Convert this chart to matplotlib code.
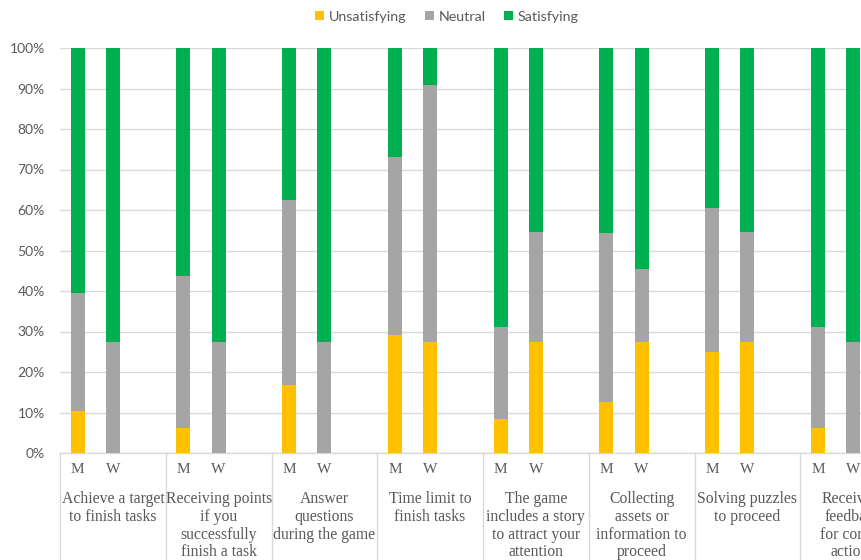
import numpy as np
import matplotlib.pyplot as plt
import matplotlib.transforms as mtransforms

# Datos (porcentajes)
categorias = ["Achieve a target\nto finish tasks",
              "Receiving points\nif you\nsuccessfully\nfinish a task",
              "Answer\nquestions\nduring the game",
              "Time limit to\nfinish tasks",
              "The game\nincludes a story\nto attract your\nattention",
              "Collecting\nassets or\ninformation to\nproceed",
              "Solving puzzles\nto proceed",
              "Receiving\nfeedback\nfor correct\nactions"]
grupos = ["M", "W"]

unsat_m = [10.4, 6.2, 16.7, 29.2, 8.3, 12.5, 25.0, 6.2]
neutral_m = [29.2, 37.5, 45.8, 43.8, 22.9, 41.7, 35.4, 25.0]
sat_m = [60.4, 56.3, 37.5, 27.0, 68.8, 45.8, 39.6, 68.8]

unsat_w = [0.0, 0.0, 0.0, 27.3, 27.3, 27.3, 27.3, 0.0]
neutral_w = [27.3, 27.3, 27.3, 63.6, 27.2, 18.2, 27.2, 27.3]
sat_w = [72.7, 72.7, 72.7, 9.1, 45.5, 54.5, 45.5, 72.7]

series = ["Unsatisfying", "Neutral", "Satisfying"]
colores = ["#FFC000", "#A5A5A5", "#00B050"]
gris_texto = "#595959"
gris_linea = "#D9D9D9"


def main():
    fig = plt.figure(figsize=(8.61, 5.60), dpi=100)
    ax = fig.add_axes([60 / 861, 107 / 560, 846 / 861, 405 / 560])

    n = len(categorias)
    x_m = np.arange(n) * 3
    x_w = x_m + 1
    ancho = 0.4

    datos_m = [unsat_m, neutral_m, sat_m]
    datos_w = [unsat_w, neutral_w, sat_w]
    base_m = np.zeros(n)
    base_w = np.zeros(n)
    for i in range(3):
        ax.bar(x_m, datos_m[i], ancho, bottom=base_m, color=colores[i],
               label=series[i], zorder=3)
        ax.bar(x_w, datos_w[i], ancho, bottom=base_w, color=colores[i], zorder=3)
        base_m += np.array(datos_m[i])
        base_w += np.array(datos_w[i])

    ax.set_xlim(-0.5, 3 * n - 0.5)
    ax.set_ylim(0, 100)
    ax.set_yticks(np.arange(0, 101, 10))
    ax.set_yticklabels(["{}%".format(v) for v in range(0, 101, 10)],
                       fontsize=10, color=gris_texto, family="Lato")
    ax.yaxis.grid(True, color=gris_linea, linewidth=1, zorder=0)
    ax.tick_params(axis="y", length=0, pad=11)

    # etiquetas M / W
    xt = np.sort(np.concatenate((x_m, x_w)))
    ax.set_xticks(xt)
    ax.set_xticklabels(grupos * n, fontsize=11, color=gris_texto,
                       family="Liberation Serif")
    ax.tick_params(axis="x", length=0, pad=7)

    for s in ["top", "right", "left"]:
        ax.spines[s].set_visible(False)
    ax.spines["bottom"].set_color(gris_linea)
    ax.spines["bottom"].set_linewidth(1)

    trans = mtransforms.blended_transform_factory(ax.transData, ax.transAxes)
    for g in range(n + 1):
        ax.plot([3 * g - 0.5, 3 * g - 0.5], [0, -0.3], color=gris_linea,
                linewidth=1, transform=trans, clip_on=False)
    for g in range(n):
        ax.text(3 * g + 1, -0.095, categorias[g], transform=trans,
                ha="center", va="top", fontsize=11.3, color=gris_texto,
                family="Liberation Serif", linespacing=1.13)

    leg = fig.legend(loc="center", bbox_to_anchor=(447 / 861, 1 - 17 / 560),
                     ncol=3, frameon=False, handlelength=0.6, handleheight=0.6,
                     handletextpad=0.35, columnspacing=1.3,
                     prop={"family": "Lato", "size": 10.3})
    for t in leg.get_texts():
        t.set_color(gris_texto)

    fig.savefig("out.png", dpi=100)


if __name__ == "__main__":
    main()
